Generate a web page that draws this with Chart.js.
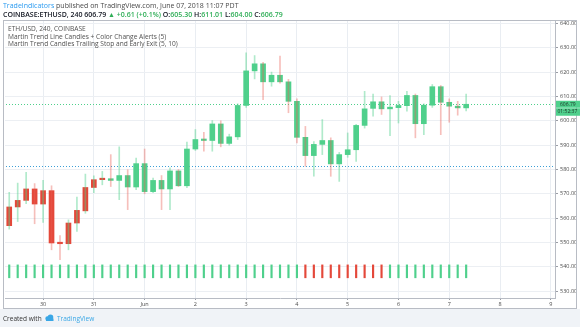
<!DOCTYPE html>
<html>
<head>
<meta charset="utf-8">
<script src="https://cdn.jsdelivr.net/npm/chart.js@4"></script>
<style>
  html, body { margin: 0; padding: 0; background: #fff; }
  canvas { display: block; }
</style>
</head>
<body>
<canvas id="myChart" width="580" height="327"></canvas>
<script>
// ETH/USD 240 candles, COINBASE (May 29 08:00 -> Jun 7 08:00)
const opens = [556.9, 564.6, 567.3, 572.0, 565.8, 571.3, 549.8, 549.5, 558.0, 563.0, 572.6, 575.8,
  576.2, 575.5, 577.5, 572.8, 582.4, 570.9, 575.5, 572.0, 579.4, 573.3, 588.4, 592.3,
  591.9, 598.7, 590.7, 593.4, 606.3, 620.5, 623.4, 616.0, 618.7, 616.0, 608.0, 593.2,
  585.7, 590.3, 591.9, 582.3, 586.1, 588.1, 598.1, 605.1, 607.8, 604.9, 605.4, 606.2,
  610.4, 598.8, 606.4, 614.0, 607.6, 606.0, 605.30];
const highs = [570.6, 574.4, 578.8, 574.2, 575.5, 573.3, 552.8, 559.3, 568.7, 578.1, 577.4, 579.2,
  586.1, 589.3, 579.9, 584.7, 588.4, 576.5, 577.5, 580.7, 580.0, 591.2, 596.4, 595.3,
  600.1, 600.0, 594.5, 607.0, 627.9, 626.8, 624.0, 620.0, 626.6, 617.0, 609.0, 597.7,
  591.5, 600.5, 593.0, 587.0, 595.0, 598.5, 612.1, 611.0, 609.8, 610.4, 608.0, 612.1,
  611.0, 607.0, 614.9, 614.5, 609.0, 608.0, 611.01];
const lows = [555.5, 558.6, 566.0, 557.7, 558.2, 547.0, 542.9, 547.0, 554.5, 562.0, 570.5, 573.7,
  573.0, 567.6, 563.5, 571.7, 570.0, 570.5, 563.5, 563.5, 573.0, 572.5, 587.8, 587.5,
  587.5, 589.3, 590.0, 592.3, 605.5, 617.2, 608.7, 614.2, 615.5, 603.3, 590.9, 581.3,
  577.2, 586.1, 577.2, 575.1, 585.0, 583.3, 597.0, 601.9, 602.6, 593.9, 599.1, 603.9,
  593.0, 594.3, 605.5, 594.3, 599.4, 602.3, 604.00];
const closes = [564.6, 567.3, 572.0, 565.8, 571.3, 549.8, 549.5, 558.0, 563.2, 572.6, 575.8, 576.2,
  575.5, 577.5, 572.8, 582.4, 570.9, 575.5, 572.0, 579.4, 573.3, 588.4, 592.3, 591.9,
  598.7, 590.7, 593.4, 606.3, 620.5, 623.4, 616.0, 618.7, 616.0, 608.0, 593.2, 585.7,
  590.3, 591.9, 582.3, 586.1, 588.1, 598.1, 604.9, 607.8, 604.9, 605.6, 606.3, 610.4,
  598.8, 606.4, 614.0, 607.6, 606.0, 605.3, 606.79];

// Martin Trend Line candle colour (1 = up trend, 0 = down trend)
const candleTrend = [0, 0, 0, 0, 0, 0, 0, 0, 0, 0, 0, 0,
  1, 1, 1, 1, 1, 1, 1, 1, 1, 1, 1, 1, 1, 1, 1, 1, 1, 1, 1, 1, 1, 1, 1, 1,
  1, 1, 1, 1, 1, 1, 1, 1, 1, 1, 1, 1, 1, 1, 1, 1, 1, 1, 1];
// Trailing stop / early exit strip at the bottom
const signalTrend = [1, 1, 1, 1, 1, 1, 1, 1, 1, 1, 1, 1, 1, 1, 1, 1, 1, 1, 1, 1, 1, 1, 1, 1, 1,
  1, 1, 1, 1, 1, 1, 1, 1, 1, 1, 0, 0, 0, 0, 0, 0, 0, 0, 0, 0, 1, 1, 1, 1, 1, 1, 1, 1, 1, 1];
const signalRange = [535.5, 540.8];

// time axis: 65 four-hour slots, day labels
const slotCount = 65;
const dayTickIndex = [4, 10, 16, 22, 28, 34, 40, 46, 52, 58, 64];
const dayTickLabels = ['30', '31', 'Jun', '2', '3', '4', '5', '6', '7', '8', '9'];

const stopLevel = 581.3;
const lastPrice = 606.79;
const countdown = '01:52:37';

const GREEN = '#4fd08c';
const RED = '#e4483a';
const FONT = '"Open Sans", "Noto Sans", sans-serif';

Chart.defaults.font.family = FONT;

const slots = Array.from({ length: slotCount }, (_, i) => i);
const isDay = i => dayTickIndex.indexOf(i) !== -1;

function drawRuns(ctx, x, y, runs) {
    runs.forEach(r => {
        ctx.font = r.font;
        ctx.fillStyle = r.color;
        ctx.fillText(r.text, x, y);
        x += ctx.measureText(r.text).width;
    });
}

const overlay = {
    id: 'overlay',
    beforeDraw(chart) {
        const ctx = chart.ctx;
        ctx.save();
        ctx.fillStyle = '#ffffff';
        ctx.fillRect(0, 0, 580, 327);
        ctx.fillStyle = '#f0f3f7';
        ctx.fillRect(0, 309, 580, 18);
        ctx.restore();
    },
    beforeDatasetsDraw(chart) {
        const ctx = chart.ctx;
        const y = chart.scales.y;
        const a = chart.chartArea;
        ctx.save();
        ctx.lineWidth = 1;
        ctx.setLineDash([1, 2]);
        ctx.strokeStyle = '#3d9fd6';
        let py = Math.round(y.getPixelForValue(stopLevel)) + 0.5;
        ctx.beginPath(); ctx.moveTo(a.left - 2, py); ctx.lineTo(a.right, py); ctx.stroke();
        ctx.strokeStyle = GREEN;
        py = Math.round(y.getPixelForValue(lastPrice)) + 0.5;
        ctx.beginPath(); ctx.moveTo(a.left - 2, py); ctx.lineTo(a.right, py); ctx.stroke();
        ctx.restore();
    },
    afterDraw(chart) {
        const ctx = chart.ctx;
        const y = chart.scales.y;
        const a = chart.chartArea;
        ctx.save();
        // frame
        ctx.strokeStyle = '#b8bcc4';
        ctx.lineWidth = 1;
        ctx.strokeRect(3.5, 20.5, 573, 288);

        // last price label
        const py = y.getPixelForValue(lastPrice);
        ctx.fillStyle = GREEN;
        ctx.fillRect(a.right + 1, py - 3.5, 24, 7);
        ctx.fillRect(a.right + 1, py + 4, 24, 7.5);
        ctx.fillStyle = '#1d3327';
        ctx.font = '5px ' + FONT;
        ctx.textBaseline = 'middle';
        ctx.fillText(lastPrice.toFixed(2), a.right + 5, py);
        ctx.fillText(countdown, a.right + 2.5, py + 7.8);

        // header
        ctx.textBaseline = 'alphabetic';
        drawRuns(ctx, 3, 8, [
            { text: 'TradeIndicators', color: '#2a9af0', font: '7px ' + FONT },
            { text: ' published on TradingView.com, June 07, 2018 11:07 PDT', color: '#4a4a4a', font: '7px ' + FONT }
        ]);
        const bold = '600 7px ' + FONT;
        const hg = '#2fae57';
        drawRuns(ctx, 3, 17, [
            { text: 'COINBASE:ETHUSD, 240 606.79 ', color: '#131722', font: bold },
            { text: '\u25B2 +0.61 (+0.1%) ', color: hg, font: bold },
            { text: 'O:', color: '#131722', font: bold }, { text: '605.30 ', color: hg, font: bold },
            { text: 'H:', color: '#131722', font: bold }, { text: '611.01 ', color: hg, font: bold },
            { text: 'L:', color: '#131722', font: bold }, { text: '604.00 ', color: hg, font: bold },
            { text: 'C:', color: '#131722', font: bold }, { text: '606.79', color: hg, font: bold }
        ]);

        // legend inside the pane
        ctx.font = '6.6px ' + FONT;
        ctx.fillStyle = '#505050';
        ctx.fillText('ETH/USD, 240, COINBASE', 8, 31);
        ctx.fillText('Martin Trend Line Candles + Color Change Alerts (5)', 8, 38.5);
        ctx.fillText('Martin Trend Candles Trailing Stop and Early Exit (5, 10)', 8, 46);

        // footer
        ctx.font = '6.5px ' + FONT;
        ctx.fillStyle = '#333';
        ctx.fillText('Created with', 3, 320.5);
        ctx.fillStyle = '#3aa7e6';
        ctx.beginPath();
        ctx.arc(47.5, 318.5, 2.2, 0, Math.PI * 2);
        ctx.arc(50.5, 317.3, 2.8, 0, Math.PI * 2);
        ctx.fill();
        ctx.fillRect(46, 318.5, 7.5, 2.5);
        ctx.fillText('TradingView', 57, 320.5);
        ctx.restore();
    }
};

const canvas = document.getElementById('myChart');

new Chart(canvas, {
    type: 'bar',
    data: {
        labels: slots,
        datasets: [{
            label: 'Wicks',
            data: lows.map((l, i) => [l, highs[i]]),
            backgroundColor: closes.map((c, i) => c >= opens[i] ? 'rgba(79, 208, 140, 0.45)' : 'rgba(232, 96, 86, 0.4)'),
            barThickness: 1
        }, {
            label: 'Candles',
            data: opens.map((o, i) => [o, closes[i]]),
            backgroundColor: candleTrend.map(t => t ? GREEN : RED),
            barThickness: 5,
            minBarLength: 1.5
        }, {
            label: 'Signal',
            data: signalTrend.map(() => signalRange),
            backgroundColor: signalTrend.map(t => t ? GREEN : RED),
            barThickness: 1.5
        }]
    },
    options: {
        responsive: false,
        animation: false,
        layout: { padding: { left: 5, top: 20, right: 3, bottom: 19 } },
        datasets: { bar: { grouped: false } },
        plugins: {
            legend: { display: false },
            tooltip: { enabled: false }
        },
        scales: {
            x: {
                grid: {
                    offset: false,
                    color: c => isDay(c.index) ? '#e9edf2' : 'transparent',
                    tickColor: c => isDay(c.index) ? '#9a9da5' : 'transparent',
                    tickLength: 2
                },
                border: { color: '#b8bcc4' },
                ticks: {
                    autoSkip: false,
                    maxRotation: 0,
                    padding: 1,
                    color: '#4a4a4a',
                    font: { size: 5.5 },
                    callback: (v, i) => {
                        const k = dayTickIndex.indexOf(i);
                        return k === -1 ? '' : dayTickLabels[k];
                    }
                },
                afterFit: s => { s.height = 10; }
            },
            y: {
                position: 'right',
                min: 527.2,
                max: 641.4,
                grid: { color: '#eceff3', tickColor: '#9a9da5', tickLength: 3 },
                border: { color: '#b8bcc4' },
                ticks: {
                    stepSize: 10,
                    includeBounds: false,
                    padding: 2,
                    color: '#4a4a4a',
                    font: { size: 5.5 },
                    callback: v => v.toFixed(2)
                },
                afterFit: s => { s.width = 22; }
            }
        }
    },
    plugins: [overlay]
});
</script>
</body>
</html>
